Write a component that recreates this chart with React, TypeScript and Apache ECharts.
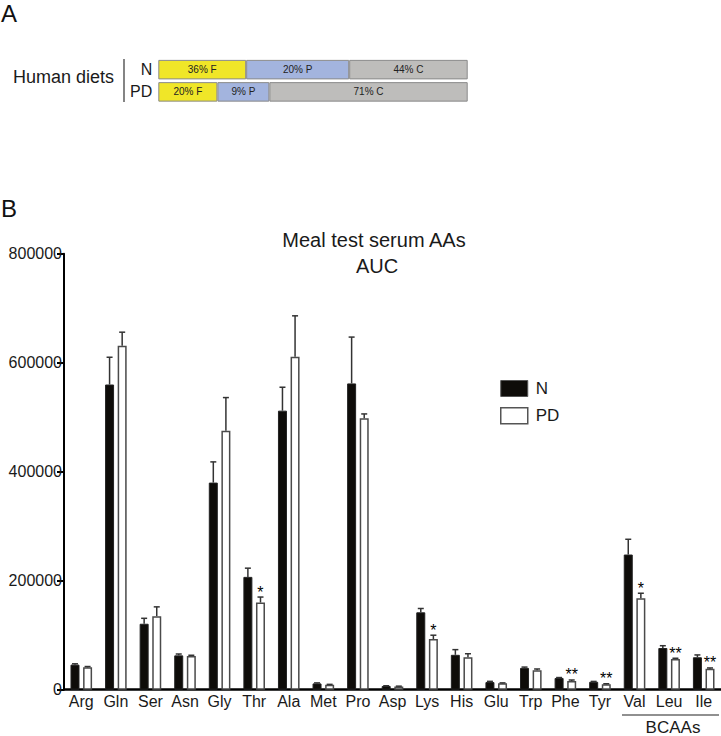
import React, { useEffect, useRef } from "react";
import * as echarts from "echarts";

// ---------- Panel B data ----------
const aminoAcids = ["Arg", "Gln", "Ser", "Asn", "Gly", "Thr", "Ala", "Met", "Pro", "Asp", "Lys", "His", "Glu", "Trp", "Phe", "Tyr", "Val", "Leu", "Ile"];
const meanN = [46000, 560000, 121000, 63000, 380000, 207000, 512000, 11500, 562000, 6800, 142000, 64000, 14000, 40000, 21500, 14500, 248000, 76500, 59500];
const semN = [1500, 50000, 10000, 2500, 38000, 16000, 43000, 1000, 85000, 500, 7000, 9500, 1300, 1500, 800, 700, 28000, 4200, 4300];
const meanPD = [41000, 631000, 135000, 62000, 475000, 160000, 611000, 9000, 498000, 6000, 93000, 59500, 11700, 35600, 16000, 10000, 168000, 56300, 38500];
const semPD = [1500, 25000, 17000, 1200, 61000, 10000, 75000, 800, 8000, 500, 7000, 6500, 800, 2400, 1800, 900, 9000, 1400, 1400];
const starsPD = ["", "", "", "", "", "*", "", "", "", "", "*", "", "", "", "**", "**", "*", "**", "**"];
const yTicks = [0, 200000, 400000, 600000, 800000];

// ---------- Panel A data ----------
const dietRows = ["N", "PD"];
const fatShare = [28.4, 19.1];
const proteinShare = [33.3, 16.8];
const carbShare = [38.3, 64.1];
const fatLabels = ["36% F", "20% F"];
const proteinLabels = ["20% P", "9% P"];
const carbLabels = ["44% C", "71% C"];

const FONT = "'Liberation Sans', Arial, Helvetica, sans-serif";
const BAR_W = 9;
const HALF = 6.3;
const INK = "#1a1a1a";

export default function App() {
  const ref = useRef<HTMLDivElement>(null);

  useEffect(() => {
    if (!ref.current) return;
    const chart = echarts.init(ref.current, null, { renderer: "svg" });

    const errRender = (offset: number) =>
      (params: any, api: any) => {
        const i = api.value(0);
        const v = api.value(1);
        const e = api.value(2);
        const b = api.coord([i, v]);
        const t = api.coord([i, v + e]);
        const x = b[0] + offset;
        return {
          type: "group",
          children: [
            { type: "line", shape: { x1: x, y1: b[1], x2: x, y2: t[1] }, style: { stroke: "#333", lineWidth: 1.5 } },
            { type: "line", shape: { x1: x - 3, y1: t[1], x2: x + 3, y2: t[1] }, style: { stroke: "#333", lineWidth: 1.5 } },
          ],
        };
      };

    const starRender = (params: any, api: any) => {
      const i = api.value(0);
      const top = api.coord([i, api.value(1) + api.value(2)]);
      const s = starsPD[i];
      if (!s) return null;
      return {
        type: "text",
        x: top[0] + HALF,
        y: top[1] - 5,
        silent: true,
        style: { text: s, align: "center", verticalAlign: "middle", fontSize: 16, fill: "#000", stroke: "none", fontFamily: FONT },
      };
    };

    const dietLabel = (arr: string[]) => ({
      show: true,
      position: "inside",
      color: "#222",
      fontSize: 10,
      fontFamily: FONT,
      formatter: (p: any) => arr[p.dataIndex],
    });
    const dietStyle = (c: string) => ({ color: c, borderColor: "#8a8a8a", borderWidth: 1 });

    chart.setOption({
      animation: false,
      textStyle: { fontFamily: FONT },
      legend: {
        orient: "vertical",
        left: 500,
        top: 380,
        padding: 0,
        itemWidth: 27,
        itemHeight: 16,
        itemGap: 10,
        icon: "rect",
        textStyle: { fontSize: 17, color: INK, fontFamily: FONT, padding: [0, 0, 0, 3] },
        data: [
          { name: "N", itemStyle: { color: "#0e0c09", borderColor: "#555", borderWidth: 1 } },
          { name: "PD", itemStyle: { color: "#fff", borderColor: "#555", borderWidth: 1.5 } },
        ],
      },
      grid: [
        { left: 64, width: 660, top: 253.7, height: 436, containLabel: false },
        { left: 158.3, width: 309.4, top: 58.5, height: 44.5, containLabel: false },
      ],
      xAxis: [
        {
          type: "category",
          gridIndex: 0,
          data: aminoAcids,
          axisLine: { lineStyle: { color: "#000", width: 2.5 } },
          axisTick: { show: false },
          axisLabel: { interval: 0, fontSize: 16, color: INK, margin: 4, fontFamily: FONT },
        },
        { type: "value", gridIndex: 1, min: 0, max: 100, show: false },
      ],
      yAxis: [
        {
          type: "value",
          gridIndex: 0,
          min: yTicks[0],
          max: yTicks[yTicks.length - 1],
          interval: yTicks[1] - yTicks[0],
          splitLine: { show: false },
          axisLine: { show: true, lineStyle: { color: "#000", width: 2 } },
          axisTick: { show: true, length: 7, lineStyle: { color: "#000", width: 2 } },
          axisLabel: { fontSize: 16, color: INK, margin: 2, fontFamily: FONT, formatter: (v: number) => String(v) },
        },
        {
          type: "category",
          gridIndex: 1,
          data: dietRows,
          inverse: true,
          axisLine: { show: false },
          axisTick: { show: false },
          axisLabel: { fontSize: 16, color: INK, margin: 6, fontFamily: FONT },
        },
      ],
      series: [
        {
          name: "N",
          type: "bar",
          xAxisIndex: 0,
          yAxisIndex: 0,
          barWidth: BAR_W,
          barGap: "40%",
          data: meanN,
          itemStyle: { color: "#0e0c09", borderColor: "#222", borderWidth: 1 },
        },
        {
          name: "PD",
          type: "bar",
          xAxisIndex: 0,
          yAxisIndex: 0,
          barWidth: BAR_W,
          barGap: "40%",
          data: meanPD,
          itemStyle: { color: "#fff", borderColor: "#4a4a4a", borderWidth: 1.5 },
        },
        {
          name: "errN",
          type: "custom",
          xAxisIndex: 0,
          yAxisIndex: 0,
          renderItem: errRender(-HALF),
          data: meanN.map((m, i) => [i, m, semN[i]]),
          encode: { x: 0, y: 1 },
          itemStyle: { color: INK },
          z: 3,
        },
        {
          name: "errPD",
          type: "custom",
          xAxisIndex: 0,
          yAxisIndex: 0,
          renderItem: errRender(HALF),
          data: meanPD.map((m, i) => [i, m, semPD[i]]),
          encode: { x: 0, y: 1 },
          itemStyle: { color: INK },
          z: 3,
        },
        {
          name: "starsPD",
          type: "custom",
          xAxisIndex: 0,
          yAxisIndex: 0,
          renderItem: starRender,
          data: meanPD.map((m, i) => [i, m, semPD[i]]),
          encode: { x: 0, y: 1 },
          itemStyle: { color: "#000" },
          z: 4,
        },
        {
          name: "Fat",
          type: "bar",
          xAxisIndex: 1,
          yAxisIndex: 1,
          stack: "diet",
          barWidth: 19.5,
          data: fatShare,
          itemStyle: dietStyle("#f0e628"),
          label: dietLabel(fatLabels),
        },
        {
          name: "Protein",
          type: "bar",
          xAxisIndex: 1,
          yAxisIndex: 1,
          stack: "diet",
          barWidth: 19.5,
          data: proteinShare,
          itemStyle: dietStyle("#a3b4de"),
          label: dietLabel(proteinLabels),
        },
        {
          name: "Carb",
          type: "bar",
          xAxisIndex: 1,
          yAxisIndex: 1,
          stack: "diet",
          barWidth: 19.5,
          data: carbShare,
          itemStyle: dietStyle("#bebdbb"),
          label: dietLabel(carbLabels),
        },
      ],
      graphic: [
        { type: "text", left: 1, top: 1, style: { text: "A", fontSize: 24, fill: "#111", fontFamily: FONT } },
        { type: "text", left: 1, top: 196, style: { text: "B", fontSize: 24, fill: "#111", fontFamily: FONT } },
        { type: "text", x: 13, y: 77, style: { text: "Human diets", fontSize: 18, fill: INK, fontFamily: FONT, align: "left", verticalAlign: "middle" } },
        { type: "line", shape: { x1: 124, y1: 59, x2: 124, y2: 102 }, style: { stroke: "#333", lineWidth: 1.2 } },
        { type: "text", x: 374, y: 240, style: { text: "Meal test serum AAs", fontSize: 20, fill: INK, fontFamily: FONT, align: "center", verticalAlign: "middle" } },
        { type: "text", x: 377, y: 266, style: { text: "AUC", fontSize: 20, fill: INK, fontFamily: FONT, align: "center", verticalAlign: "middle" } },
        { type: "line", shape: { x1: 622, y1: 715, x2: 719, y2: 715 }, style: { stroke: "#222", lineWidth: 1.2 } },
        { type: "text", x: 673, y: 727, style: { text: "BCAAs", fontSize: 17, fill: INK, fontFamily: FONT, align: "center", verticalAlign: "middle" } },
      ],
    });

    return () => chart.dispose();
  }, []);

  return <div ref={ref} style={{ position: "absolute", left: 0, top: 0, width: 721, height: 736 }} />;
}
